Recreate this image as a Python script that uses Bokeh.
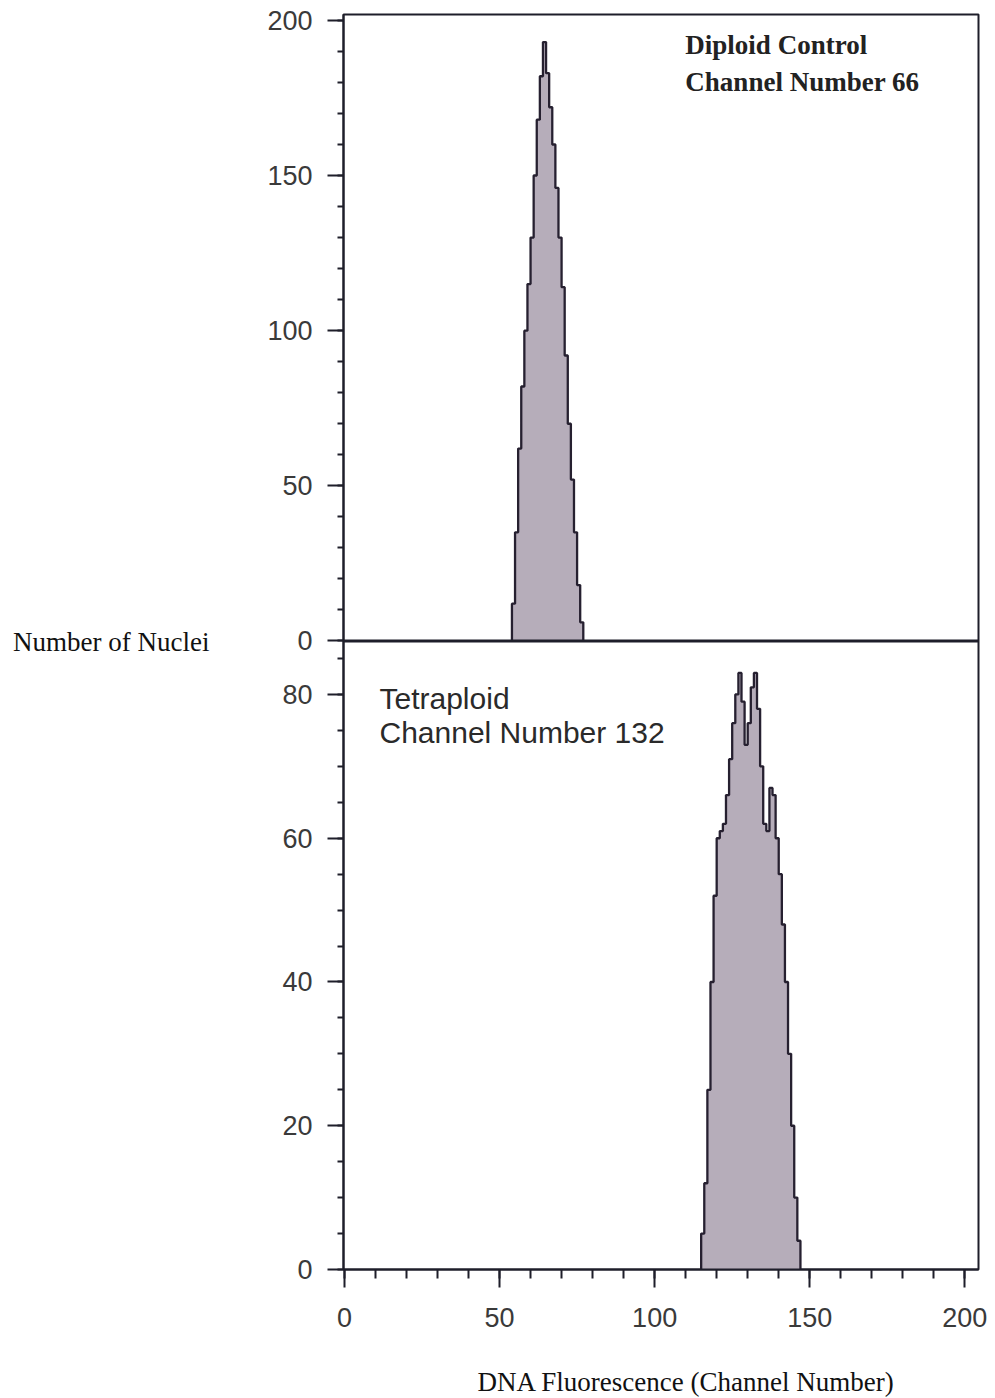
from bokeh.plotting import figure
from bokeh.models import Range1d, FixedTicker, Span, Label, Title, LinearAxis
from bokeh.embed import file_html
from bokeh.resources import INLINE

# ---- data ----
diploid_channels = list(range(54, 77))
diploid_counts = [12, 35, 62, 82, 100, 115, 130, 150, 168, 182, 193, 183,
                  172, 160, 146, 130, 114, 92, 70, 52, 35, 18, 6]

tetraploid_channels = list(range(115, 147))
tetraploid_counts = [5, 12, 25, 40, 52, 60, 61, 62, 66, 71, 76, 80, 83, 79,
                     73, 76, 81, 83, 78, 70, 62, 61, 67, 66, 60, 55, 48, 40,
                     30, 20, 10, 4]

x_ticks = [0, 50, 100, 150, 200]
x_minor = list(range(0, 201, 10))
top_y_ticks = [0, 50, 100, 150, 200]
top_y_minor = list(range(0, 201, 10))
bottom_y_ticks = [0, 20, 40, 60, 80]
bottom_y_minor = list(range(0, 86, 5))

top_label = ["Diploid Control", "Channel Number 66"]
bottom_label = ["Tetraploid", "Channel Number 132"]
y_title = "Number of Nuclei"
x_title = "DNA Fluorescence (Channel Number)"

# ---- styles ----
FILL = "#b6adba"
EDGE = "#262030"
AX = "#1e1e2a"
TICKLAB = "#3a3a3a"

X0, X1 = -0.3, 204.4
xr = Range1d(X0, X1)
bottom_range = Range1d(0, 174.6)      # tetraploid panel (lower half of frame)
top_range = Range1d(-202.6, 201.9)    # diploid panel (upper half of frame)

p = figure(width=995, height=1398, output_backend="svg", toolbar_location=None,
           title=None, x_range=xr, y_range=bottom_range,
           min_border_left=343, min_border_right=17,
           min_border_top=14, min_border_bottom=129)
p.extra_y_ranges = {"top": top_range}
p.xgrid.visible = False
p.ygrid.visible = False
p.outline_line_color = AX
p.outline_line_width = 2
p.background_fill_color = "white"
p.border_fill_color = "white"


def step_xy(ch, cnt):
    xs = [ch[0]] + list(ch) + [ch[-1] + 1]
    ys = [0] + list(cnt) + [0]
    return xs, ys


# diploid (top panel)
dx, dy = step_xy(diploid_channels, diploid_counts)
p.varea_step(x=dx, y1=[0] * len(dx), y2=dy, step_mode="after",
             fill_color=FILL, y_range_name="top")
p.step(x=dx, y=dy, mode="after", line_color=EDGE, line_width=2.3,
       y_range_name="top")

# tetraploid (bottom panel)
tx, ty = step_xy(tetraploid_channels, tetraploid_counts)
p.varea_step(x=tx, y1=[0] * len(tx), y2=ty, step_mode="after",
             fill_color=FILL)
p.step(x=tx, y=ty, mode="after", line_color=EDGE, line_width=2.3)

# divider between panels
p.add_layout(Span(location=0, dimension="width", y_range_name="top",
                  line_color=AX, line_width=3))


def top_to_bottom(t):
    """Map a value of the top panel's range onto the shared frame's range."""
    f = (t - top_range.start) / (top_range.end - top_range.start)
    return bottom_range.start + f * (bottom_range.end - bottom_range.start)


def style_axis(ax):
    ax.axis_line_color = AX
    ax.axis_line_width = 2
    ax.major_tick_line_color = AX
    ax.minor_tick_line_color = AX
    ax.major_tick_line_width = 2
    ax.minor_tick_line_width = 2
    ax.major_tick_in = 0
    ax.minor_tick_in = 0
    ax.major_label_text_font = "Liberation Sans"
    ax.major_label_text_font_size = "27px"
    ax.major_label_text_color = TICKLAB


# x axis (shared by both panels, drawn at the bottom)
xa = p.xaxis[0]
xa.ticker = FixedTicker(ticks=x_ticks, minor_ticks=x_minor)
style_axis(xa)
xa.major_tick_out = 18
xa.minor_tick_out = 9
xa.major_label_standoff = 20

# y axis: one rule carrying the ticks of both panels
top_pos = [top_to_bottom(t) for t in top_y_ticks]
ticks = list(bottom_y_ticks) + top_pos
minor = list(bottom_y_minor) + [top_to_bottom(t) for t in top_y_minor]
overrides = {v: str(v) for v in bottom_y_ticks}
overrides.update({pos: str(t) for pos, t in zip(top_pos, top_y_ticks)})

ya = p.yaxis[0]
ya.ticker = FixedTicker(ticks=ticks, minor_ticks=minor)
ya.major_label_overrides = overrides
style_axis(ya)
ya.major_tick_out = 16
ya.minor_tick_out = 6
ya.major_label_standoff = 15
ya.axis_label = y_title
ya.axis_label_orientation = "horizontal"
ya.axis_label_text_font = "Liberation Serif"
ya.axis_label_text_font_size = "27px"
ya.axis_label_text_font_style = "normal"
ya.axis_label_text_color = "#111111"
ya.axis_label_standoff = 55

# panel annotations
p.add_layout(Label(x=109.9, y=187.2, y_range_name="top", text=top_label[0],
                   text_font="Liberation Serif", text_font_style="bold",
                   text_font_size="27px", text_color="#222222"))
p.add_layout(Label(x=109.9, y=175.4, y_range_name="top", text=top_label[1],
                   text_font="Liberation Serif", text_font_style="bold",
                   text_font_size="27px", text_color="#222222"))
p.add_layout(Label(x=11.3, y=77.2, text=bottom_label[0],
                   text_font="Liberation Sans", text_font_size="30px",
                   text_color="#2a2a2a"))
p.add_layout(Label(x=11.3, y=72.4, text=bottom_label[1],
                   text_font="Liberation Sans", text_font_size="30px",
                   text_color="#2a2a2a"))

# blank spacer rule below the x axis (white on white) to push the title down
spacer = LinearAxis(ticker=FixedTicker(ticks=[X1 - 0.5]),
                    major_label_overrides={X1 - 0.5: ""},
                    axis_line_color=None,
                    major_tick_line_color="white",
                    minor_tick_line_color=None,
                    major_tick_in=0, major_tick_out=35, minor_tick_in=0,
                    minor_tick_out=0, major_label_standoff=0,
                    major_label_text_font_size="1px",
                    major_label_text_color="white")
p.add_layout(spacer, "below")

# x title
p.add_layout(Title(text=x_title, align="left", offset=134, standoff=0,
                   text_font="Liberation Serif", text_font_size="27px",
                   text_font_style="normal", text_color="#111111"), "below")

open("out.html", "w").write(file_html(p, INLINE))
